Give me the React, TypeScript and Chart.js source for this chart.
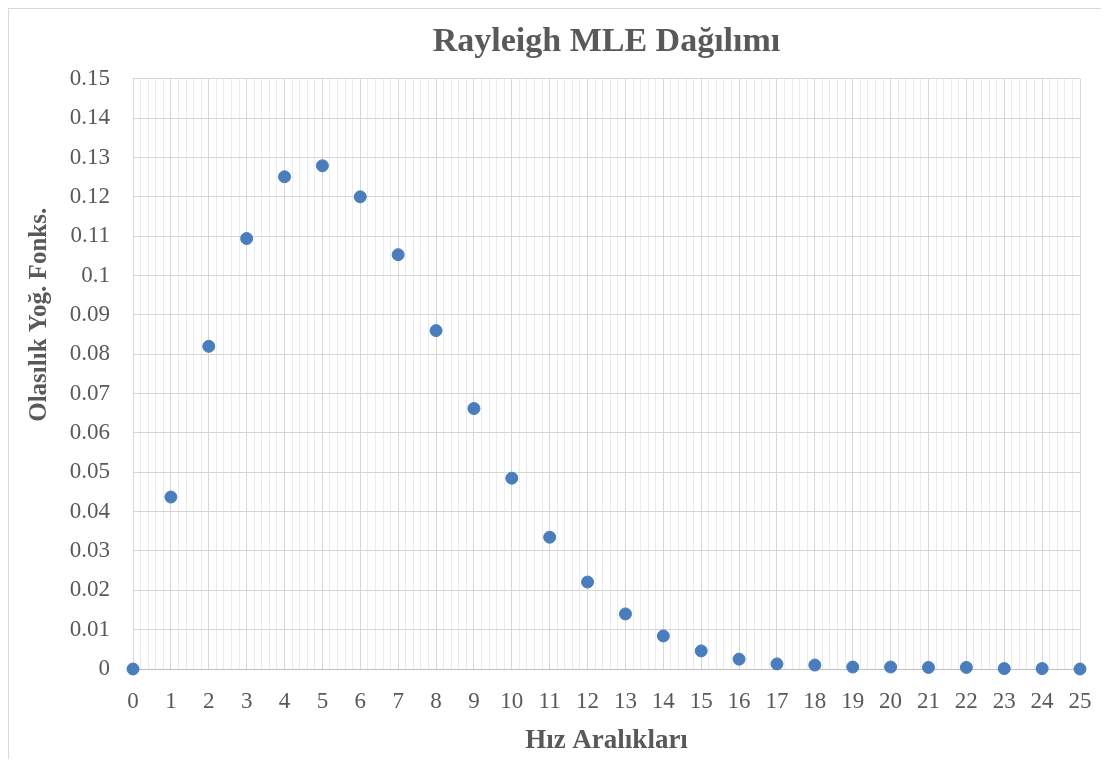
import React, { useEffect, useRef } from "react";
import { Chart, registerables } from "chart.js";

Chart.register(...registerables);

const xValues = [0, 1, 2, 3, 4, 5, 6, 7, 8, 9, 10, 11, 12, 13, 14, 15, 16, 17, 18, 19, 20, 21, 22, 23, 24, 25];
const pdfValues = [
  0.0, 0.0437, 0.082, 0.1094, 0.1251, 0.1279, 0.12, 0.1053, 0.086, 0.0662, 0.0485, 0.0335, 0.0221,
  0.014, 0.0084, 0.0046, 0.0025, 0.0013, 0.001, 0.0005, 0.0005, 0.0004, 0.0004, 0.0001, 0.0001, 0.0,
];

const TITLE = "Rayleigh MLE Dağılımı";
const X_TITLE = "Hız Aralıkları";
const Y_TITLE = "Olasılık Yoğ. Fonks.";

const FAMILY = '"Liberation Serif", "Times New Roman", serif';
const TEXT_COLOR = "#595959";
const MAJOR = "#d6d6d6";
const MINOR = "#ebebeb";
const POINT_COLOR = "#4a7dbb";

const isInt = (v: number) => Math.abs(v - Math.round(v)) < 1e-6;

const yTitlePlugin = {
  id: "yTitleCustom",
  afterDraw(chart: any) {
    const { ctx, chartArea } = chart;
    ctx.save();
    ctx.translate(chartArea.left - 93, chartArea.top + 236);
    ctx.rotate(-Math.PI / 2);
    ctx.font = `bold 25px ${FAMILY}`;
    ctx.fillStyle = TEXT_COLOR;
    ctx.textAlign = "center";
    ctx.textBaseline = "middle";
    ctx.fillText(Y_TITLE, 0, 0);
    ctx.restore();
  },
};

export default function App() {
  const ref = useRef<HTMLCanvasElement>(null);

  useEffect(() => {
    const chart = new Chart(ref.current as HTMLCanvasElement, {
      type: "scatter",
      data: {
        datasets: [
          {
            data: xValues.map((x, i) => ({ x, y: pdfValues[i] })),
            backgroundColor: POINT_COLOR,
            borderColor: POINT_COLOR,
            pointRadius: 6,
            borderWidth: 1,
            clip: false,
          } as any,
        ],
      },
      options: {
        animation: false,
        responsive: true,
        maintainAspectRatio: false,
        layout: { padding: { left: 0, right: 21, top: 0, bottom: 0 } },
        plugins: {
          legend: { display: false },
          tooltip: { enabled: false },
          title: {
            display: true,
            text: TITLE,
            fullSize: false,
            color: TEXT_COLOR,
            font: { family: FAMILY, size: 34, weight: "bold" },
            padding: { top: 13, bottom: 16 },
          } as any,
        },
        scales: {
          x: {
            type: "linear",
            min: 0,
            max: 25,
            afterFit: (s: any) => {
              s.height = 90;
            },
            ticks: {
              stepSize: 0.2,
              autoSkip: false,
              maxRotation: 0,
              padding: 0,
              color: TEXT_COLOR,
              font: { family: FAMILY, size: 23 },
              callback: (v: any) => (isInt(Number(v)) ? String(Math.round(Number(v))) : ""),
            },
            grid: {
              drawTicks: true,
              tickLength: 19,
              tickColor: "rgba(0,0,0,0)",
              lineWidth: 1,
              color: (ctx: any) => (ctx.tick && isInt(ctx.tick.value) ? MAJOR : MINOR),
            },
            border: { color: "#bfbfbf" },
            title: {
              display: true,
              text: X_TITLE,
              color: TEXT_COLOR,
              font: { family: FAMILY, size: 27, weight: "bold" },
              padding: { top: 0, bottom: 2 },
            },
          },
          y: {
            min: 0,
            max: 0.15,
            afterFit: (s: any) => {
              s.width = 124;
            },
            ticks: {
              stepSize: 0.01,
              padding: 23,
              color: TEXT_COLOR,
              font: { family: FAMILY, size: 23 },
              callback: (v: any) => String(Math.round(Number(v) * 100) / 100),
            },
            grid: { drawTicks: false, color: MAJOR, lineWidth: 1 },
            border: { color: MAJOR },
          },
        },
      },
      plugins: [yTitlePlugin],
    });
    return () => chart.destroy();
  }, []);

  return (
    <div
      style={{
        width: 1094,
        height: 751,
        border: "1px solid #d9d9d9",
        borderBottom: "none",
        boxSizing: "border-box",
        position: "relative",
        background: "#ffffff",
      }}
    >
      <canvas ref={ref} />
    </div>
  );
}
